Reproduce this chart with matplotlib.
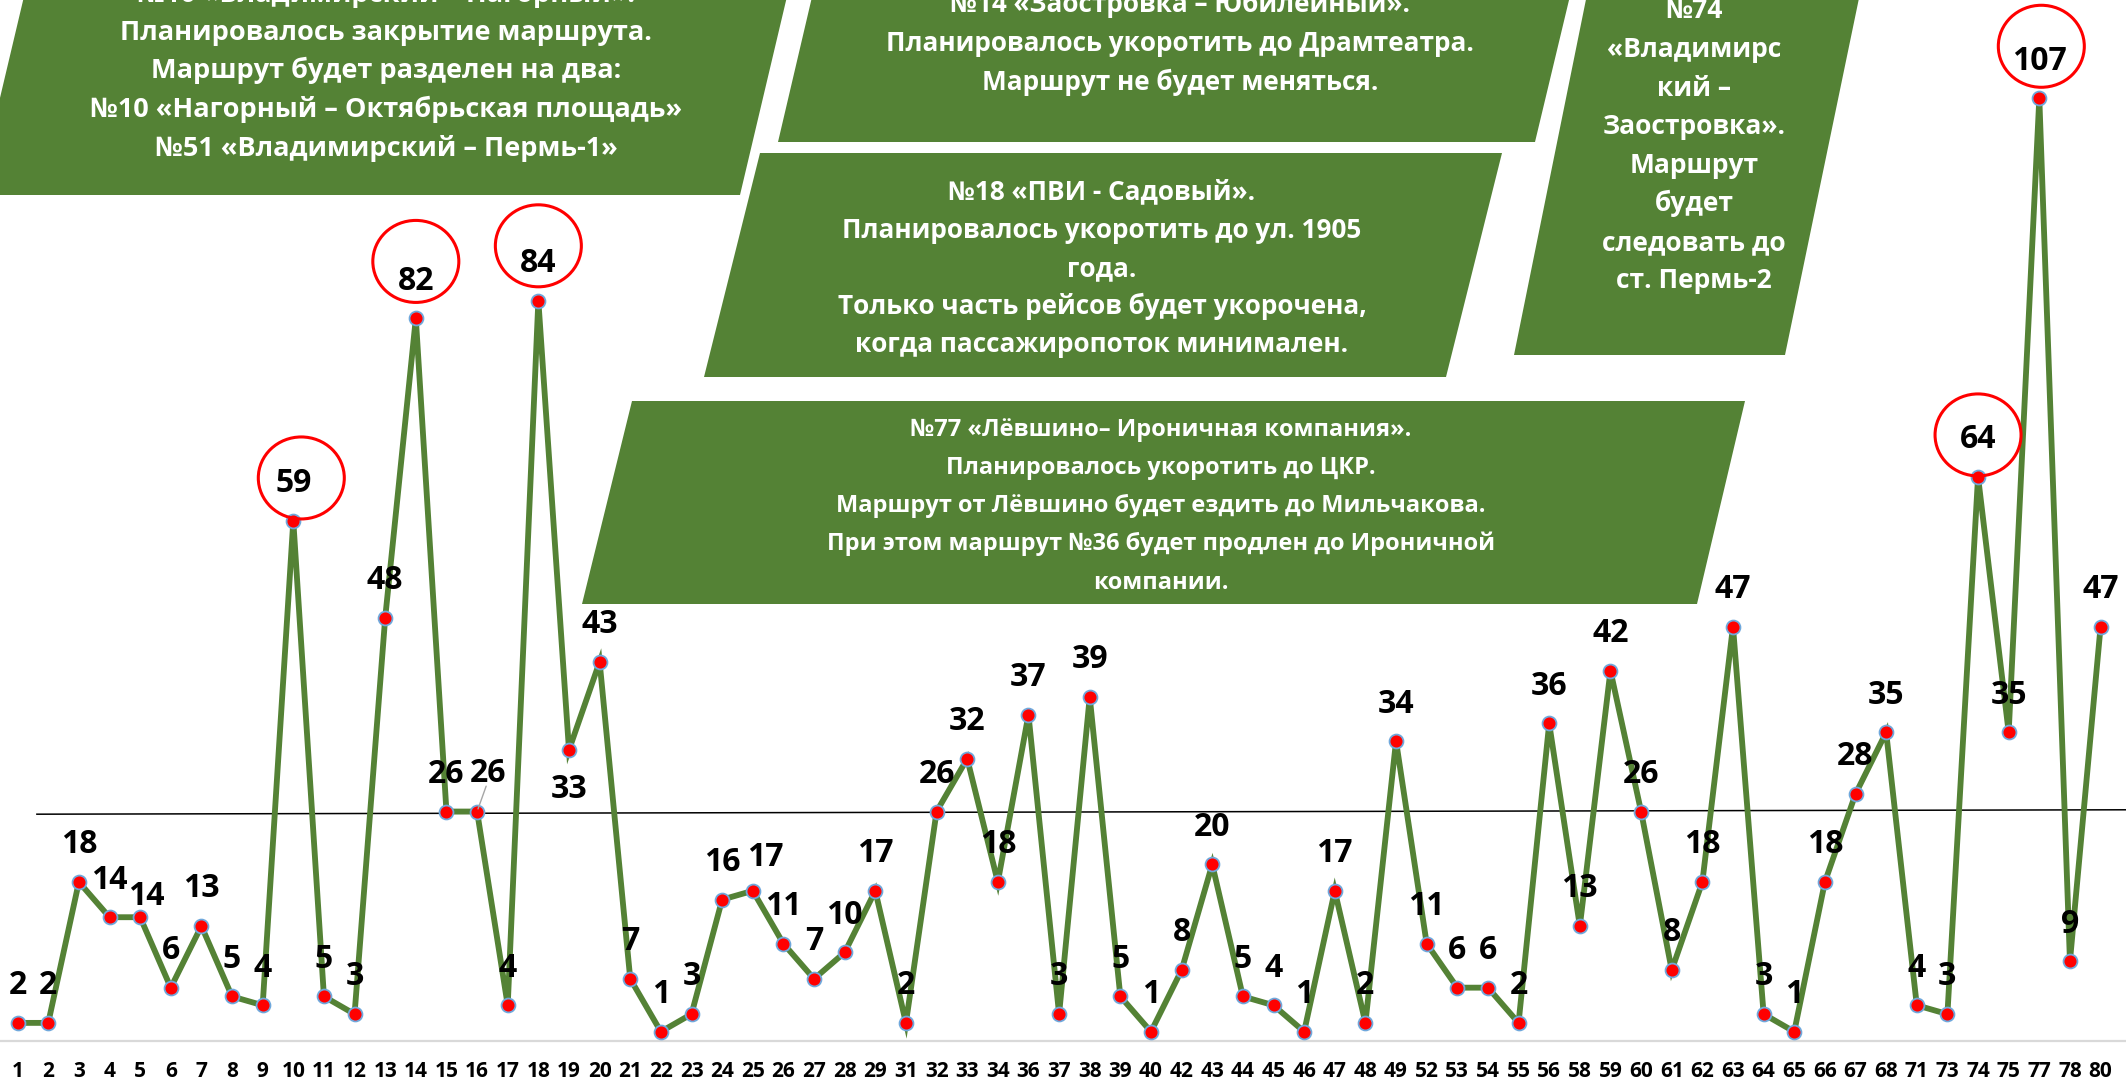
import matplotlib
matplotlib.use('Agg')
import matplotlib.pyplot as plt
from matplotlib.patches import Polygon, Ellipse
from matplotlib.transforms import IdentityTransform
import numpy as np

# ---------------- data ----------------
routes = ['1', '2', '3', '4', '5', '6', '7', '8', '9', '10', '11', '12', '13', '14', '15',
          '16', '17', '18', '19', '20', '21', '22', '23', '24', '25', '26', '27', '28', '29',
          '31', '32', '33', '34', '36', '37', '38', '39', '40', '42', '43', '44', '45', '46',
          '47', '48', '49', '52', '53', '54', '55', '56', '58', '59', '60', '61', '62', '63',
          '64', '65', '66', '67', '68', '71', '73', '74', '75', '77', '78', '80']
riders = [2, 2, 18, 14, 14, 6, 13, 5, 4, 59, 5, 3, 48, 82, 26,
          26, 4, 84, 33, 43, 7, 1, 3, 16, 17, 11, 7, 10, 17,
          2, 26, 32, 18, 37, 3, 39, 5, 1, 8, 20, 5, 4, 1,
          17, 2, 34, 11, 6, 6, 2, 36, 13, 42, 26, 8, 18, 47,
          3, 1, 18, 28, 35, 4, 3, 64, 35, 107, 9, 47]

circled_routes = ['10', '14', '18', '74', '77']

# reference line (drawn over the chart)
ref_line_x = [0.63, 68.83]
ref_line_y = [25.7, 26.2]

box_texts = {
    'A': ["№10 «Владимирский – Нагорный».", "Планировалось закрытие маршрута.",
          "Маршрут будет разделен на два:", "№10 «Нагорный – Октябрьская площадь»",
          "№51 «Владимирский – Пермь-1»"],
    'B': ["№14 «Заостровка – Юбилейный».", "Планировалось укоротить до Драмтеатра.",
          "Маршрут не будет меняться."],
    'C': ["№18 «ПВИ - Садовый».", "Планировалось укоротить до ул. 1905", "года.",
          "Только часть рейсов будет укорочена,", "когда пассажиропоток минимален."],
    'D': ["№74", "«Владимирс", "кий –", "Заостровка».", "Маршрут", "будет",
          "следовать до", "ст. Пермь-2"],
    'E': ["№77 «Лёвшино– Ироничная компания».", "Планировалось укоротить до ЦКР.",
          "Маршрут от Лёвшино будет ездить до Мильчакова.",
          "При этом маршрут №36 будет продлен до Ироничной", "компании."],
}

# ---------------- layout (pixels, top-left origin) ----------------
W, H = 2126, 1084
GREEN = '#548235'

box_shapes = {
    'A': [(35, -50), (798, -50), (740, 195), (-23, 195)],
    'B': [(823, -50), (1581, -50), (1535, 142), (778, 142)],
    'C': [(760, 153), (1502, 153), (1446, 377), (704, 377)],
    'D': [(1596, -50), (1869, -50), (1785, 355), (1514, 355)],
    'E': [(632, 401), (1745, 401), (1697, 604), (582, 604)],
}
box_layout = {
    'A': (386, [-7.5, 31, 69.5, 108, 146.5], 19.5),
    'B': (1180, [3.5, 42, 81], 18.8),
    'C': (1102, [190, 229, 267, 305, 343], 18.8),
    'D': (1694, [9, 48, 87, 125, 164, 202, 241, 279], 19),
    'E': (1161, [427, 465, 503, 541, 580], 17),
}

plt.rcParams['font.family'] = ['Open Sans', 'DejaVu Sans']

fig = plt.figure(figsize=(W / 100, H / 100), dpi=100)
fig.patch.set_facecolor('white')

axis_y = 1040.5
ax = fig.add_axes([0, (H - axis_y) / H, 1, axis_y / H])
ax.patch.set_alpha(0)
x = np.arange(len(routes))
ax.plot(x, riders, color=GREEN, lw=4.2, solid_joinstyle='miter', zorder=3,
        marker='o', ms=10, mfc='#ff0000', mec='#6fa8dc', mew=1.3)
ax.set_xlim(-0.575, 68.83)
ax.set_ylim(0, 118.16)
ax.set_xticks(x)
ax.set_xticklabels(routes, fontsize=15, fontweight='bold')
ax.tick_params(axis='x', length=0, pad=15)
ax.set_yticks([])
for s in ['left', 'right', 'top']:
    ax.spines[s].set_visible(False)
ax.spines['bottom'].set_color('#d9d9d9')
ax.spines['bottom'].set_linewidth(1.6)

# reference line
ax.plot(ref_line_x, ref_line_y, color='black', lw=1.1, zorder=2)

# data labels
label_offsets = {'5': (6, 12.6), '16': (11, 30), '19': (0, -48), '25': (13, 25)}
for xi, r, v in zip(x, routes, riders):
    dx, dy = label_offsets.get(r, (0, 28.6))
    ax.annotate(str(v), (xi, v), xytext=(dx, dy), textcoords='offset pixels',
                ha='center', va='baseline', fontsize=23, fontweight='bold',
                color='black', zorder=5)
    if r == '16':
        ax.annotate('', (xi, v), xytext=(dx - 1, dy - 2), textcoords='offset pixels',
                    arrowprops=dict(arrowstyle='-', color='#a6a6a6', lw=1))

# red circles around key labels
circle_offsets = {'10': (8, 43), '14': (0, 57), '18': (0, 55), '74': (0, 42), '77': (2, 52)}
for xi, r, v in zip(x, routes, riders):
    if r in circled_routes:
        px, py = ax.transData.transform((xi, v))
        dx, dy = circle_offsets[r]
        fig.add_artist(Ellipse((px + dx, py + dy), 86, 82, transform=IdentityTransform(),
                               fill=False, ec='#ff0000', lw=2.2, zorder=6))

# green parallelogram text boxes
for k, pts in box_shapes.items():
    disp = [(px, H - py) for px, py in pts]
    fig.add_artist(Polygon(disp, closed=True, transform=IdentityTransform(),
                           fc=GREEN, ec='none', zorder=7))
    cx, ys, fs = box_layout[k]
    for line, yc in zip(box_texts[k], ys):
        fig.text(cx, H - (yc + 9), line, transform=IdentityTransform(),
                 ha='center', va='baseline', fontsize=fs, fontweight='bold',
                 color='white', zorder=8)

fig.savefig('out.png', dpi=100)
